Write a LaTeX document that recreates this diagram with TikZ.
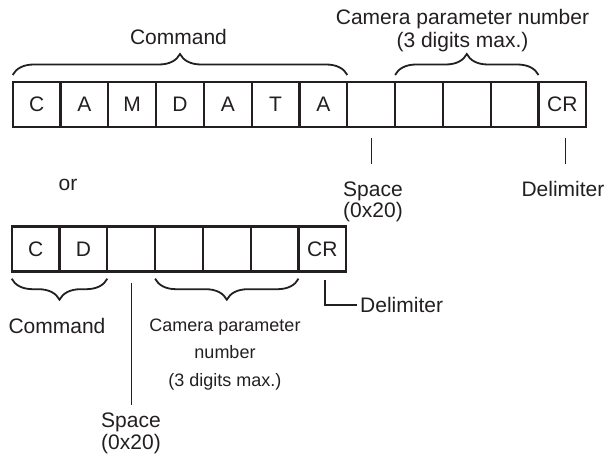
\documentclass[tikz,border=0pt]{standalone}
\usepackage{fontspec}
\setmainfont{Liberation Sans}
\usetikzlibrary{positioning,decorations.pathreplacing}
\definecolor{ink}{RGB}{35,31,32}

\begin{document}
\begin{tikzpicture}[x=1pt, y=1pt, font=\fontsize{21}{21}\selectfont, color=ink,
  cell/.style={draw, line width=2.2pt, minimum width=47.8pt, minimum height=45pt,
    inner sep=0pt, outer sep=0pt},
  brc/.style={decorate, decoration={brace, amplitude=21pt}, line width=1.8pt},
  lead/.style={line width=1.2pt}]
\useasboundingbox (0,0) rectangle (610,459);
% long form: CAMDATA, space, number, CR
\foreach \t [count=\i] in {C,A,M,D,A,T,A,{},{},{},{},CR}
  \node[cell] (a\i) at ({12.7+47.8*(\i-0.5)},354.8) {\t};
\draw[brc] ([yshift=6.7pt]a1.north west) -- ([yshift=6.7pt]a7.north east);
\draw[brc] ([yshift=6.7pt]a9.north west) -- ([yshift=6.7pt]a11.north east);
\node[anchor=base] (cmd) at (178.5,414.7) {Command};
\node[align=center, inner sep=0pt, font=\fontsize{21}{23}\selectfont] (par) at (462.5,428)
  {Camera parameter number\\(3 digits max.)};
\node[anchor=north, align=center, inner sep=0pt] (spc) at (373,277.5) {Space\\(0x20)};
\node[anchor=north, inner sep=0pt] (dlm) at (563,277.5) {Delimiter};
\draw[lead] ([yshift=-11.3pt]a8.south) -- ([yshift=17.5pt]a8.south |- spc.north);
\draw[lead] ([xshift=3.3pt,yshift=-11.3pt]a12.south)
  -- ([xshift=3.3pt,yshift=17.5pt]a12.south |- dlm.north);
\node[anchor=base] (or) at (68,268.3) {or};
% short form: CD, space, number, CR
\foreach \t [count=\i] in {C,D,{},{},{},{},CR}
  \node[cell] (b\i) at ({11.7+47.8*(\i-0.5)},210.1) {\t};
\draw[brc] ([yshift=-7.3pt]b2.south east) -- ([yshift=-7.3pt]b1.south west);
\draw[brc] ([yshift=-7.3pt]b6.south east) -- ([yshift=-7.3pt]b4.south west);
\node[anchor=base] (cmd2) at (57,125.5) {Command};
\node[anchor=north, align=center, inner sep=0pt, font=\fontsize{18}{27.5}\selectfont]
  (par2) at (225,140.3) {Camera parameter\\number\\(3 digits max.)};
\node[anchor=north, align=center, inner sep=0pt, font=\fontsize{21}{22}\selectfont]
  (spc2) at (131,46) {Space\\(0x20)};
\node[anchor=west, inner sep=3pt] (dlm2) at (357,154) {Delimiter};
\draw[lead] ([yshift=-11.3pt]b3.south) -- ([yshift=8pt]b3.south |- spc2.north);
\draw[lead] ([xshift=2.6pt,yshift=-8.6pt]b7.south) |- (dlm2.west);
\end{tikzpicture}
\end{document}
